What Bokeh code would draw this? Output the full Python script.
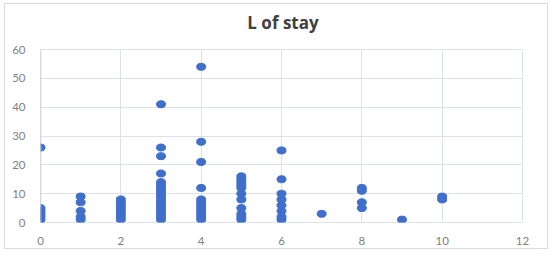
from bokeh.plotting import figure
from bokeh.models import ColumnDataSource, FixedTicker, Range1d, Span, Div
from bokeh.layouts import column
from bokeh.embed import file_html
from bokeh.resources import INLINE

# Length of stay by category (x) — one entry per observation
days_0 = [26, 5, 4, 3, 2, 1]
days_1 = [9, 7, 4, 2, 1]
days_2 = [8, 7, 6, 5, 4, 3, 2, 1]
days_3 = [41, 26, 23, 17, 14, 13, 12, 11, 10, 9, 8, 7, 6, 5, 4, 3, 2, 1]
days_4 = [54, 28, 21, 12, 8, 7, 6, 5, 4, 3, 2, 1]
days_5 = [16, 15, 14, 13, 12, 10, 8, 5, 3, 2, 1]
days_6 = [25, 15, 10, 8, 6, 4, 2, 1]
days_7 = [3]
days_8 = [12, 11, 7, 5]
days_9 = [1]
days_10 = [9, 8]

x_vals, y_vals = [], []
for k, col in enumerate([days_0, days_1, days_2, days_3, days_4, days_5,
                         days_6, days_7, days_8, days_9, days_10]):
    x_vals += [k] * len(col)
    y_vals += col

x_ticks = [0, 2, 4, 6, 8, 10, 12]
y_ticks = [0, 10, 20, 30, 40, 50, 60]

src = ColumnDataSource(dict(x=x_vals, y=y_vals))

title = Div(text="L of stay", width=542, height=35, margin=(0, 0, 0, 0),
            styles={"text-align": "center", "font-family": "Open Sans",
                    "font-size": "17px", "font-weight": "bold", "color": "#404040",
                    "padding-top": "7px", "padding-left": "14px",
                    "line-height": "24px", "box-sizing": "border-box"})

p = figure(width=542, height=209, output_backend="svg", toolbar_location=None,
           x_range=Range1d(0, 12), y_range=Range1d(0, 60),
           min_border_left=35, min_border_right=25,
           min_border_top=10, min_border_bottom=26)

grid_col = "#dde1ea"
for ax in (p.xaxis, p.yaxis):
    ax.axis_line_color = None
    ax.major_tick_line_color = None
    ax.minor_tick_line_color = None
    ax.major_label_text_color = "#7f7f7f"
    ax.major_label_text_font = "Lato"
    ax.major_label_text_font_size = "11.5px"
p.xaxis.ticker = FixedTicker(ticks=x_ticks)
p.yaxis.ticker = FixedTicker(ticks=y_ticks)
p.xaxis.major_label_standoff = 8
p.yaxis.major_label_standoff = 9

p.xgrid.ticker = FixedTicker(ticks=x_ticks)
p.ygrid.ticker = FixedTicker(ticks=y_ticks)
p.xgrid.grid_line_color = grid_col
p.ygrid.grid_line_color = grid_col
p.outline_line_color = grid_col

# vertical axis line at x = 0
p.add_layout(Span(location=0, dimension="height", line_color="#c5cddd", line_width=1.5))

p.ellipse(x="x", y="y", width=9, height=7, width_units="screen", height_units="screen",
          source=src, fill_color="#3f6fcb", line_color="#3f6fcb")

layout = column(title, p, spacing=0,
                styles={"border": "1px solid #d9d9d9", "margin-left": "4px", "margin-top": "3px"})

open("out.html", "w").write(file_html(layout, INLINE))
